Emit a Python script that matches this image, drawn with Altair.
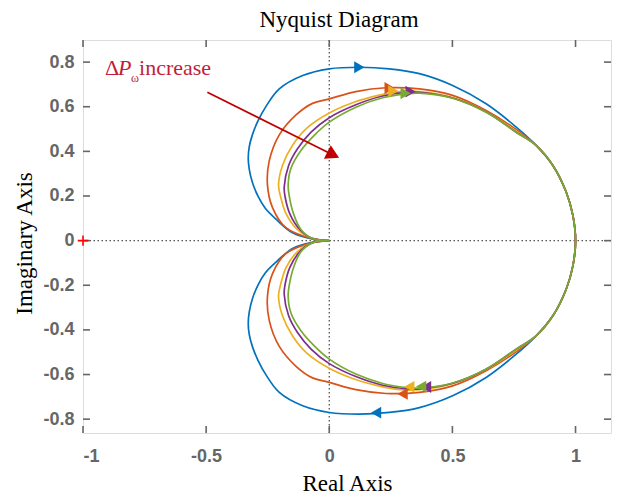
import altair as alt
import pandas as pd

# ---------------- data (upper half, from origin to (1,0); lower half = conjugate) -------------
series = ["a1", "a2", "a3", "a4", "a5"]
colors = ["#0072BD", "#D95319", "#EDB120", "#7E2F8E", "#77AC30"]

blue_x = [0, -0.07, -0.149, -0.215, -0.26, -0.29, -0.312, -0.325, -0.329, -0.325, -0.312, -0.29,
          -0.255, -0.203, -0.108, 0, 0.122, 0.244, 0.366, 0.501, 0.637, 0.759, 0.840, 0.908,
          0.962, 0.989, 1.0]
blue_y = [0, 0.008, 0.035, 0.095, 0.145, 0.20, 0.26, 0.32, 0.37, 0.42, 0.475, 0.535,
          0.605, 0.680, 0.740, 0.770, 0.777, 0.770, 0.748, 0.695, 0.613, 0.509, 0.427, 0.337,
          0.218, 0.114, 0]

orange_x = [0, -0.08, -0.176, -0.23, -0.251, -0.244, -0.203, -0.135, -0.068,
            0, 0.108, 0.230, 0.366, 0.501, 0.637, 0.750, 0.840, 0.908, 0.962, 0.989, 1.0]
orange_y = [0, 0.012, 0.058, 0.147, 0.25, 0.356, 0.474, 0.563, 0.615,
            0.635, 0.668, 0.685, 0.680, 0.651, 0.583, 0.505, 0.427, 0.337, 0.218, 0.114, 0]

yellow_x = [0, -0.07, -0.13, -0.175, -0.196, -0.206, -0.19, -0.149, -0.09,
            0, 0.095, 0.203, 0.285, 0.366, 0.501, 0.637, 0.759, 0.840, 0.908, 0.962, 0.989, 1.0]
yellow_y = [0, 0.01, 0.05, 0.12, 0.19, 0.248, 0.337, 0.427, 0.505,
            0.572, 0.618, 0.652, 0.668, 0.668, 0.641, 0.578, 0.490, 0.427, 0.337, 0.218, 0.114, 0]

purple_x = [0, -0.07, -0.12, -0.16, -0.18, -0.183, -0.165, -0.129, -0.074,
            0, 0.108, 0.217, 0.325, 0.366, 0.501, 0.637, 0.759, 0.840, 0.908, 0.962, 0.989, 1.0]
purple_y = [0, 0.01, 0.05, 0.12, 0.20, 0.24, 0.337, 0.412, 0.486,
            0.551, 0.609, 0.648, 0.665, 0.664, 0.639, 0.576, 0.486, 0.427, 0.337, 0.218, 0.114, 0]

green_x = [0, -0.07, -0.115, -0.145, -0.163, -0.167, -0.156, -0.115, -0.061,
           0, 0.108, 0.217, 0.312, 0.366, 0.501, 0.637, 0.759, 0.840, 0.908, 0.962, 0.989, 1.0]
green_y = [0, 0.01, 0.05, 0.12, 0.203, 0.248, 0.323, 0.404, 0.472,
           0.531, 0.598, 0.640, 0.658, 0.661, 0.638, 0.575, 0.486, 0.427, 0.337, 0.218, 0.114, 0]

# direction arrows on each curve
arrow_series = ["a1", "a1", "a2", "a2", "a3", "a3", "a4", "a4", "a5", "a5"]
arrow_x = [0.122, 0.19, 0.245, 0.298, 0.26, 0.325, 0.33, 0.393, 0.31, 0.373]
arrow_y = [0.777, -0.771, 0.684, -0.687, 0.670, -0.655, 0.668, -0.656, 0.660, -0.654]
arrow_dir = ["right", "left"] * 5

x_ticks = [-1, -0.5, 0, 0.5, 1]
y_ticks = [-0.8, -0.6, -0.4, -0.2, 0, 0.2, 0.4, 0.6, 0.8]
x_domain = [-1, 1.144]
y_domain = [-0.862, 0.899]

# annotation
ann_arrow = {"x": [-0.495], "y": [0.665], "x2": [0.016], "y2": [0.384]}
ann_head = {"x": [0.016], "y": [0.384]}
ann_normal = {"x": [-0.9106, -0.7724], "y": [0.740, 0.740], "t": ["\u0394", "increase"]}
ann_italic = {"x": [-0.8577], "y": [0.740], "t": ["P"]}
ann_sub = {"x": [-0.8049], "y": [0.709], "t": ["\u03c9"]}
title_text = ["Nyquist Diagram"]

# ---------------- build tables ----------------
rows = []
for name, xs, ys in zip(series, [blue_x, orange_x, yellow_x, purple_x, green_x],
                        [blue_y, orange_y, yellow_y, purple_y, green_y]):
    pts = list(zip(xs, ys))
    full = pts + [(x, -y) for x, y in reversed(pts[:-1])]
    for i, (x, y) in enumerate(full):
        rows.append({"s": name, "i": i, "x": x, "y": y})
curves = pd.DataFrame(rows)
arrows = pd.DataFrame({"s": arrow_series, "x": arrow_x, "y": arrow_y, "d": arrow_dir})

W, H = 528, 393
GRAY = "#666666"

label_expr = "replace(datum.label, '\u2212', '-')"
X = alt.X("x:Q", scale=alt.Scale(domain=x_domain, nice=False, zero=False),
          axis=alt.Axis(values=x_ticks, grid=False, ticks=False, domain=False, format="~g",
                        labelFont="Liberation Sans", labelFontWeight="bold", labelFontSize=18,
                        labelColor=GRAY, labelPadding=14, labelExpr=label_expr,
                        title="Real Axis", titleFont="Liberation Serif", titleFontSize=23,
                        titleFontWeight="normal", titleColor="black", titlePadding=7))
Y = alt.Y("y:Q", scale=alt.Scale(domain=y_domain, nice=False, zero=False),
          axis=alt.Axis(values=y_ticks, grid=False, ticks=False, domain=False, format="~g",
                        labelFont="Liberation Sans", labelFontWeight="bold", labelFontSize=18,
                        labelColor=GRAY, labelPadding=9, labelExpr=label_expr,
                        title="Imaginary Axis", titleFont="Liberation Serif", titleFontSize=23,
                        titleFontWeight="normal", titleColor="black", titlePadding=6,
                        titleY=203))
C = alt.Color("s:N", scale=alt.Scale(domain=series, range=colors), legend=None)

zero_df = pd.DataFrame({"x": [0], "y": [0]})
vline = alt.Chart(zero_df).mark_rule(color="#555555", strokeWidth=1.3, strokeDash=[1.5, 2.5]).encode(x=X)
hline = alt.Chart(zero_df).mark_rule(color="#555555", strokeWidth=1.3, strokeDash=[1.5, 2.5]).encode(y=Y)

lines = alt.Chart(curves).mark_line(strokeWidth=1.7, clip=True, interpolate="catmull-rom").encode(
    x=X, y=Y, color=C, order="i:Q")

heads = alt.Chart(arrows).mark_point(filled=True, size=140, opacity=1).encode(
    x=X, y=Y, color=C,
    shape=alt.Shape("d:N", scale=alt.Scale(domain=["right", "left"],
                                           range=["triangle-right", "triangle-left"]), legend=None))

plus = alt.Chart(pd.DataFrame({"x": [-1], "y": [0]})).mark_point(
    shape="M-1,0L1,0M0,-1L0,1", filled=False, color="#FF0000", strokeWidth=1.6, size=110, opacity=1
).encode(x=X, y=Y)

a_line = alt.Chart(pd.DataFrame(ann_arrow)).mark_rule(color="#C00000", strokeWidth=1.8).encode(
    x=X, y=Y, x2="x2:Q", y2="y2:Q")
a_head = alt.Chart(pd.DataFrame(ann_head)).mark_point(
    shape="triangle-right", filled=True, color="#C00000", size=230, opacity=1, angle=26.6
).encode(x=X, y=Y)

RED_TXT = "#C21E3A"
t_norm = alt.Chart(pd.DataFrame(ann_normal)).mark_text(
    font="Liberation Serif", fontSize=22, color=RED_TXT, align="left", baseline="alphabetic"
).encode(x=X, y=Y, text="t:N")
t_ital = alt.Chart(pd.DataFrame(ann_italic)).mark_text(
    font="Liberation Serif", fontSize=22, fontStyle="italic", color=RED_TXT, align="left",
    baseline="alphabetic").encode(x=X, y=Y, text="t:N")
t_sub = alt.Chart(pd.DataFrame(ann_sub)).mark_text(
    font="Liberation Serif", fontSize=12, color=RED_TXT, align="left", baseline="alphabetic"
).encode(x=X, y=Y, text="t:N")

title = alt.Chart(pd.DataFrame({"t": title_text})).mark_text(
    font="Liberation Serif", fontSize=23, color="black", align="center", baseline="alphabetic"
).encode(x=alt.value(W / 2 - 8), y=alt.value(-13), text="t:N")

# inward ticks on all four sides
xt = pd.DataFrame({"x": x_ticks})
yt = pd.DataFrame({"y": y_ticks})
tick_style = dict(color=GRAY, strokeWidth=1.6)
tb = alt.Chart(xt).mark_rule(**tick_style).encode(x=X, y=alt.value(H), y2=alt.value(H - 7))
tt = alt.Chart(xt).mark_rule(**tick_style).encode(x=X, y=alt.value(0), y2=alt.value(7))
tl = alt.Chart(yt).mark_rule(**tick_style).encode(y=Y, x=alt.value(0), x2=alt.value(7))
tr = alt.Chart(yt).mark_rule(**tick_style).encode(y=Y, x=alt.value(W), x2=alt.value(W - 7))

chart = alt.layer(
    vline, hline, lines, heads, a_line, a_head, t_norm, t_ital, t_sub, tb, tt, tl, tr, plus, title
).properties(
    width=W, height=H,
    padding={"left": 83, "top": 40, "right": 6, "bottom": 65},
    autosize=alt.AutoSizeParams(type="none"),
).configure_view(stroke=GRAY, strokeWidth=1.8).configure(background="white")

chart.save("out.html", embed_options={"renderer": "svg", "actions": False})
